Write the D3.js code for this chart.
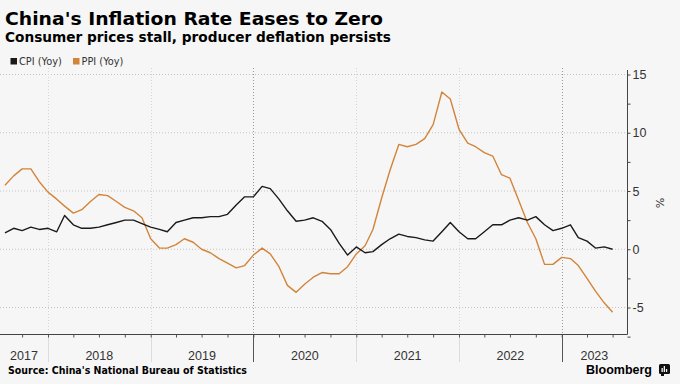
<!DOCTYPE html>
<html>
<head>
<meta charset="utf-8">
<script src="https://cdn.jsdelivr.net/npm/d3@7"></script>
<style>
  body { margin: 0; background: #f6f6f6; }
  svg { display: block; }
</style>
</head>
<body>
<div class="chart"></div>
<script>
// chart data, monthly from Jul 2017 to Jun 2023
var firstMonth = "2017-07";
var years = ["2017", "2018", "2019", "2020", "2021", "2022", "2023"];
var yTicks = [-5, 0, 5, 10, 15];
var seriesNames = ["CPI (Yoy)", "PPI (Yoy)"];

var cpi = [
    1.4, 1.8, 1.6, 1.9, 1.7, 1.8,
    1.5, 2.9, 2.1, 1.8, 1.8, 1.9, 2.1, 2.3, 2.5, 2.5, 2.2, 1.9,
    1.7, 1.5, 2.3, 2.5, 2.7, 2.7, 2.8, 2.8, 3.0, 3.8, 4.5, 4.5,
    5.4, 5.2, 4.3, 3.3, 2.4, 2.5, 2.7, 2.4, 1.7, 0.5, -0.5, 0.2,
    -0.3, -0.2, 0.4, 0.9, 1.3, 1.1, 1.0, 0.8, 0.7, 1.5, 2.3, 1.5,
    0.9, 0.9, 1.5, 2.1, 2.1, 2.5, 2.7, 2.5, 2.8, 2.1, 1.6, 1.8,
    2.1, 1.0, 0.7, 0.1, 0.2, 0.0
];
var ppi = [
    5.5, 6.3, 6.9, 6.9, 5.8, 4.9,
    4.3, 3.7, 3.1, 3.4, 4.1, 4.7, 4.6, 4.1, 3.6, 3.3, 2.7, 0.9,
    0.1, 0.1, 0.4, 0.9, 0.6, 0.0, -0.3, -0.8, -1.2, -1.6, -1.4, -0.5,
    0.1, -0.4, -1.5, -3.1, -3.7, -3.0, -2.4, -2.0, -2.1, -2.1, -1.5, -0.4,
    0.3, 1.7, 4.4, 6.8, 9.0, 8.8, 9.0, 9.5, 10.7, 13.5, 12.9, 10.3,
    9.1, 8.8, 8.3, 8.0, 6.4, 6.1, 4.2, 2.3, 0.9, -1.3, -1.3, -0.7,
    -0.8, -1.4, -2.5, -3.6, -4.6, -5.4
];

var colors = ["#1a1a1a", "#d2843a"];

function drawChart()
{
    var width = 680, height = 384;
    var plotLeft = 0, plotRight = 627, plotTop = 68, plotBottom = 334;

    var svg = d3.select('.chart').append('svg')
        .attr('width', width)
        .attr('height', height)
        .style('background', '#f6f6f6');

    var parseMonth = d3.timeParse("%Y-%m");
    var start = parseMonth(firstMonth);
    // bloomberg puts monthly points at the end of the month
    var dates = cpi.map((d, i) => d3.timeMonth.offset(start, i + 1));

    var x = d3.scaleTime()
        .domain([new Date(2018, 0, 1), new Date(2023, 0, 1)])
        .range([48, 561.7]);

    var y = d3.scaleLinear()
        .domain([-5, 15])
        .range([307.5, 74.5]);

    // horizontal grid
    svg.append('g')
        .selectAll('line')
        .data(yTicks)
        .enter().append('line')
        .attr('x1', plotLeft).attr('x2', plotRight)
        .attr('y1', d => y(d)).attr('y2', d => y(d))
        .attr('stroke', '#c4c4c4')
        .attr('stroke-width', 1)
        .attr('stroke-dasharray', '1,2');

    // year boundaries
    var yearStarts = years.slice(1).map(d => new Date(+d, 0, 1));
    var darkYears = [2020, 2023];
    svg.append('g')
        .selectAll('line')
        .data(yearStarts)
        .enter().append('line')
        .attr('x1', d => Math.round(x(d)) + 0.5).attr('x2', d => Math.round(x(d)) + 0.5)
        .attr('y1', plotTop).attr('y2', plotBottom)
        .attr('stroke', d => darkYears.includes(d.getFullYear()) ? '#9a9a9a' : '#d6d6d6')
        .attr('stroke-dasharray', '1,2');

    svg.append('g')
        .selectAll('line')
        .data(yearStarts)
        .enter().append('line')
        .attr('x1', d => Math.round(x(d)) + 0.5).attr('x2', d => Math.round(x(d)) + 0.5)
        .attr('y1', plotBottom).attr('y2', 362)
        .attr('stroke', d => darkYears.includes(d.getFullYear()) ? '#555' : '#dcdcdc')
        .attr('stroke-width', 1);

    // lines
    var line = d3.line()
        .x((d, i) => x(dates[i]))
        .y(d => y(d));

    [ppi, cpi].forEach(function(series, k)
    {
        svg.append('path')
            .datum(series)
            .attr('fill', 'none')
            .attr('stroke', k == 0 ? colors[1] : colors[0])
            .attr('stroke-width', 1.4)
            .attr('stroke-linejoin', 'round')
            .attr('d', line);
    });

    // bottom axis with quarterly ticks
    var quarters = d3.timeMonth.every(3).range(new Date(2017, 9, 1), new Date(2023, 9, 1))
        .filter(d => x(d) < plotRight);
    var xAxis = d3.axisBottom(x)
        .tickValues(quarters)
        .tickSize(3)
        .tickFormat('');
    var gx = svg.append('g')
        .attr('transform', 'translate(0,' + (plotBottom + 0.5) + ')')
        .call(xAxis);
    gx.select('.domain').remove();
    gx.selectAll('.tick line').attr('stroke', '#555');
    svg.append('line')
        .attr('x1', plotLeft).attr('x2', plotRight + 0.5)
        .attr('y1', plotBottom + 0.5).attr('y2', plotBottom + 0.5)
        .attr('stroke', '#444');

    // year labels centred in each band
    svg.append('g')
        .selectAll('text')
        .data(years)
        .enter().append('text')
        .attr('x', function(d)
        {
            var a = Math.max(plotLeft, x(new Date(+d, 0, 1)));
            var b = Math.min(plotRight, x(new Date(+d + 1, 0, 1)));
            return (a + b) / 2;
        })
        .attr('y', 359.5)
        .attr('text-anchor', 'middle')
        .style('font-family', 'Liberation Sans, Arial, sans-serif')
        .style('font-size', '12.5px')
        .attr('fill', '#333')
        .text(d => d);

    // right axis
    var yAxis = d3.axisRight(y)
        .tickValues(d3.range(-7.5, 15.1, 2.5))
        .tickSize(3)
        .tickFormat(d => yTicks.includes(d) ? d : '');
    var gy = svg.append('g')
        .attr('transform', 'translate(' + (plotRight + 0.5) + ',0)')
        .call(yAxis);
    gy.select('.domain')
        .attr('d', 'M0,' + (plotTop + 2) + 'V' + (plotBottom + 0.5))
        .attr('stroke', '#444');
    gy.selectAll('.tick line').attr('stroke', '#444');
    gy.selectAll('.tick text')
        .attr('x', 5)
        .style('font-family', 'Liberation Sans, Arial, sans-serif')
        .style('font-size', '12.5px')
        .attr('fill', '#333');

    svg.append('text')
        .attr('transform', 'translate(656,203) rotate(90)')
        .attr('text-anchor', 'middle')
        .style('font-family', 'DejaVu Sans, sans-serif')
        .style('font-size', '11px')
        .attr('fill', '#333')
        .text('%');

    // titles
    svg.append('text')
        .attr('x', 5).attr('y', 25)
        .style('font-family', 'DejaVu Sans, sans-serif')
        .style('font-weight', 'bold')
        .style('font-size', '18.5px')
        .attr('textLength', 378)
        .attr('lengthAdjust', 'spacingAndGlyphs')
        .attr('fill', '#000')
        .text("China's Inflation Rate Eases to Zero");

    svg.append('text')
        .attr('x', 5).attr('y', 41.5)
        .style('font-family', 'DejaVu Sans, sans-serif')
        .style('font-weight', 'bold')
        .style('font-size', '13.5px')
        .attr('textLength', 386)
        .attr('lengthAdjust', 'spacingAndGlyphs')
        .attr('fill', '#000')
        .text('Consumer prices stall, producer deflation persists');

    // legend
    var legend = svg.append('g')
        .selectAll('g')
        .data(seriesNames)
        .enter().append('g')
        .attr('transform', (d, i) => 'translate(' + (i == 0 ? 10.5 : 73) + ',58)');
    legend.append('rect')
        .attr('width', 6.5).attr('height', 6.5)
        .attr('fill', (d, i) => colors[i]);
    legend.append('text')
        .attr('x', 8.5).attr('y', 6.5)
        .style('font-family', 'DejaVu Sans, sans-serif')
        .style('font-size', '9.8px')
        .attr('fill', '#333')
        .text(d => d);

    // footer
    svg.append('text')
        .attr('x', 8).attr('y', 374)
        .style('font-family', 'DejaVu Sans, sans-serif')
        .style('font-weight', 'bold')
        .style('font-size', '10.5px')
        .attr('textLength', 239)
        .attr('lengthAdjust', 'spacingAndGlyphs')
        .attr('fill', '#000')
        .text("Source: China's National Bureau of Statistics");

    svg.append('text')
        .attr('x', 586).attr('y', 374)
        .style('font-family', 'Liberation Sans, Arial, sans-serif')
        .style('font-weight', 'bold')
        .style('font-size', '13.5px')
        .attr('textLength', 66)
        .attr('lengthAdjust', 'spacingAndGlyphs')
        .attr('fill', '#000')
        .text('Bloomberg');

    var logo = svg.append('g').attr('transform', 'translate(659,364)');
    logo.append('rect')
        .attr('width', 11).attr('height', 10).attr('rx', 1.5)
        .attr('fill', '#111');
    logo.selectAll('.bar')
        .data([4, 6, 3])
        .enter().append('rect')
        .attr('x', (d, i) => 2.5 + i * 2.2)
        .attr('y', d => 8 - d)
        .attr('width', 1.3)
        .attr('height', d => d)
        .attr('fill', '#f6f6f6');
    logo.append('rect')
        .attr('x', 2).attr('y', 10).attr('width', 3).attr('height', 2)
        .attr('fill', '#111');
}

drawChart();
</script>
</body>
</html>
